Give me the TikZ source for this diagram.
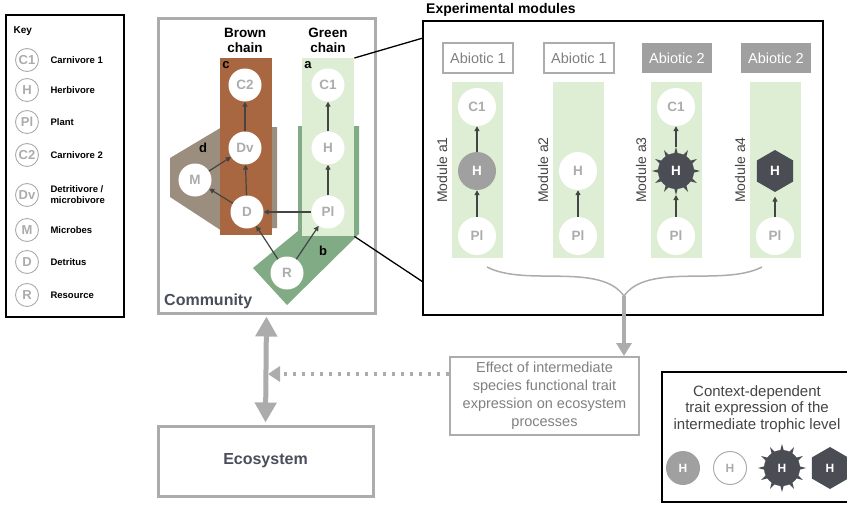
\documentclass[tikz,border=0pt]{standalone}
\usepackage{fontspec}
\setmainfont{Liberation Sans}
\usepackage{xcolor}
\usetikzlibrary{shapes,arrows,positioning,calc,arrows.meta}

\definecolor{brownch}{RGB}{168,103,64}
\definecolor{taupe}{RGB}{156,142,126}
\definecolor{palegreen}{RGB}{222,238,213}
\definecolor{darkgreen}{RGB}{128,171,133}
\definecolor{lightgrey}{RGB}{172,172,172}
\definecolor{midgrey}{RGB}{160,160,160}
\definecolor{darkslate}{RGB}{74,77,84}
\definecolor{arrowgrey}{RGB}{68,68,68}
\definecolor{labelgrey}{RGB}{74,78,90}
\definecolor{textgrey}{RGB}{128,128,128}

\newcommand{\fsz}[1]{\fontsize{#1}{#1}\selectfont}
% spikes around a trait node: node name, tip radius
\newcommand{\spikes}[2]{%
  \foreach \a in {0,30,...,330}{
    \fill[darkslate] ([shift={(\a-8:16)}]#1.center) -- ([shift={(\a:#2)}]#1.center) -- ([shift={(\a+8:16)}]#1.center) -- cycle;
  }}

\tikzset{
  keycirc/.style={circle, draw=lightgrey, line width=0.9pt, fill=white, minimum size=23pt, inner sep=0pt, text=lightgrey, font=\bfseries\fsz{13}},
  keylab/.style={anchor=west, align=left, font=\bfseries\fontsize{9.5}{11}\selectfont},
  species/.style={circle, fill=white, minimum size=33pt, inner sep=0pt, text=lightgrey, font=\bfseries\fsz{13.5}},
  modspecies/.style={species, minimum size=38pt},
  feeds/.style={draw=arrowgrey, line width=1.2pt, -{Triangle[length=5pt,width=5pt]}},
  greybox/.style={draw=lightgrey, line width=3pt, inner sep=0pt},
  blackbox/.style={draw=black, line width=1.6pt, inner sep=0pt},
  abiotic/.style={draw=lightgrey, line width=1.2pt, minimum width=70pt, minimum height=30pt, text=textgrey, font=\fsz{14.5}},
  abioticdark/.style={fill=midgrey, minimum width=70pt, minimum height=30pt, text=white, font=\fsz{14.5}},
  chainlab/.style={font=\bfseries\fsz{13}, text=black},
  hfilled/.style={circle, minimum size=38pt, inner sep=0pt, fill=midgrey, text=white, font=\bfseries\fsz{13.5}},
  hspiky/.style={circle, minimum size=36pt, inner sep=0pt, fill=darkslate, text=white, font=\bfseries\fsz{13.5}, outer sep=6pt},
  hhex/.style={regular polygon, regular polygon sides=6, shape border rotate=30, minimum size=42pt, inner sep=0pt, fill=darkslate, text=white, font=\bfseries\fsz{13.5}, outer sep=4pt}
}

\begin{document}
\begin{tikzpicture}[x=1pt,y=-1pt]
    \useasboundingbox (0,0) rectangle (847,514);

    % Key
    \node[blackbox, minimum width=118pt, minimum height=302pt] (keybox) at (65,166) {};
    \node[anchor=west, font=\bfseries\fsz{10}] (keytitle) at (10,31) {Key};
    \node[keycirc] (kc1) at (27,60) {C1};
    \node[keylab] (kl1) at (47,60) {Carnivore 1};
    \node[keycirc] (kh) at (27,90) {H};
    \node[keylab] (kl2) at (47,90) {Herbivore};
    \node[keycirc] (kpl) at (27,122) {Pl};
    \node[keylab] (kl3) at (47,122) {Plant};
    \node[keycirc] (kc2) at (27,155) {C2};
    \node[keylab] (kl4) at (47,155) {Carnivore 2};
    \node[keycirc] (kdv) at (27,195) {Dv};
    \node[keylab] (kl5) at (47,195) {Detritivore /\\microbivore};
    \node[keycirc] (km) at (27,230) {M};
    \node[keylab] (kl6) at (47,230) {Microbes};
    \node[keycirc] (kd) at (27,262) {D};
    \node[keylab] (kl7) at (47,262) {Detritus};
    \node[keycirc] (kr) at (27,295) {R};
    \node[keylab] (kl8) at (47,295) {Resource};

    % Community
    \node[greybox, minimum width=217pt, minimum height=295pt] (community) at (266.5,165.5) {};
    \node[anchor=south west, font=\bfseries\fsz{16}, text=labelgrey, inner sep=0pt] (commlab) at (164,309) {Community};

    % Brown chain with microbial loop
    \fill[taupe] (170,158) -- (222,127) -- (277,127) -- (277,228) -- (222,231) -- (170,197) -- cycle;
    \fill[brownch] (220,58) rectangle (272,235);
    \node[chainlab, align=center, font=\bfseries\fontsize{13.5}{15}\selectfont] (brownlab) at (245,40) {Brown\\chain};
    \node[chainlab] (labc) at (226,65) {c};
    \node[chainlab] (labd) at (203,148) {d};

    % Green chain
    \fill[darkgreen] (298,126) -- (359,126) -- (359,234) -- (287,305) -- (253,268) -- (298,231) -- cycle;
    \node[fill=palegreen, minimum width=52pt, minimum height=178pt, inner sep=0pt, anchor=north west] (greenchain) at (302,58) {};
    \node[chainlab, align=center, font=\bfseries\fontsize{13.5}{15}\selectfont] (greenlab) at (328,40) {Green\\chain};
    \node[chainlab] (laba) at (308,65) {a};
    \node[chainlab] (labb) at (323,251) {b};

    % Species
    \node[species] (c2) at (245,85) {C2};
    \node[species] (dv) at (245,148) {Dv};
    \node[species] (d) at (247,212) {D};
    \node[species] (m) at (195,180) {M};
    \node[species] (c1) at (328,85) {C1};
    \node[species] (h) at (328,148) {H};
    \node[species] (pl) at (328,212) {Pl};
    \node[species] (r) at (287,273) {R};

    % Trophic links
    \draw[feeds] (d) -- (dv);
    \draw[feeds] (dv) -- (c2);
    \draw[feeds] (d) -- (m);
    \draw[feeds] (m) -- (dv);
    \draw[feeds] (pl) -- (h);
    \draw[feeds] (h) -- (c1);
    \draw[feeds] (pl) -- (d);
    \draw[feeds] (r) -- (d);
    \draw[feeds] (r) -- (pl);

    % Experimental modules
    \node[blackbox, minimum width=400pt, minimum height=294pt] (modbox) at (623,168) {};
    \node[anchor=south west, font=\bfseries\fsz{14}, inner sep=0pt] (modlab) at (426,17) {Experimental modules};
    \coordinate (zoomtop) at (423,38);
    \coordinate (zoombot) at (423,282);
    \draw[line width=1.3pt] (greenchain.north east) -- (zoomtop);
    \draw[line width=1.3pt] (greenchain.south east) -- (zoombot);

    \node[abiotic] (ab1) at (478,58) {Abiotic 1};
    \node[abiotic] (ab2) at (579,58) {Abiotic 1};
    \node[abioticdark] (ab3) at (677,58) {Abiotic 2};
    \node[abioticdark] (ab4) at (776,58) {Abiotic 2};

    \foreach \i/\x in {1/477,2/578,3/676,4/775}{
        \fill[palegreen] (\x-25.5,82) rectangle (\x+25.5,258);
        \node[rotate=90, font=\fsz{14}, text=arrowgrey] (mlab\i) at (\x-35,170) {Module a\i};
        \node[modspecies] (mpl\i) at (\x,236) {Pl};
    }

    \node[modspecies] (mc1) at (477,107) {C1};
    \node[hfilled] (mh1) at (477,171) {H};
    \node[modspecies] (mh2) at (578,171) {H};
    \node[modspecies] (mc3) at (676,107) {C1};
    \node[hspiky] (mh3) at (676,171) {};
    \spikes{mh3}{24}
    \node[text=white, font=\bfseries\fsz{13.5}] at (mh3) {H};
    \node[hhex] (mh4) at (775,171) {H};

    \draw[feeds] (mpl1) -- (mh1);
    \draw[feeds] (mh1) -- (mc1);
    \draw[feeds] (mpl2) -- (mh2);
    \draw[feeds] (mpl3) -- (mh3);
    \draw[feeds] (mh3) -- (mc3);
    \draw[feeds] (mpl4) -- (mh4);

    % Brace gathering the modules
    \coordinate (bracetip) at (624,296);
    \draw[lightgrey, line width=1.5pt] (487,267) .. controls (525,287) and (600,262) .. (bracetip) .. controls (648,262) and (723,287) .. (762,267);

    % Effect box
    \node[draw=lightgrey, line width=2pt, minimum width=189pt, minimum height=78pt, align=center, text=textgrey, font=\fontsize{14.5}{18}\selectfont] (effect) at (544.5,396) {Effect of intermediate\\species functional trait\\expression on ecosystem\\processes};
    \draw[lightgrey, line width=4pt, -{Triangle[length=13pt,width=15pt]}] (bracetip) -- (bracetip |- effect.north);

    % Ecosystem
    \node[greybox, minimum width=215pt, minimum height=70pt, font=\bfseries\fsz{16}, text=labelgrey] (ecosystem) at (265.5,461) {Ecosystem};
    \draw[lightgrey, line width=5pt, {Triangle[length=20pt,width=21pt]}-{Triangle[length=20pt,width=21pt]}, shorten <=2pt, shorten >=2pt] (community.south) -- (ecosystem.north);
    \coordinate (dotend) at (268,374);
    \draw[lightgrey, line width=4pt, dash pattern=on 3.5pt off 5.5pt, -{Triangle[length=12pt,width=15pt]}] (effect.west |- dotend) -- (dotend);

    % Context-dependent trait expression
    \node[blackbox, minimum width=190pt, minimum height=130pt] (ctxbox) at (757,437) {};
    \node[align=center, text=arrowgrey, font=\fontsize{15}{16.5}\selectfont] (ctxlab) at (757,409) {Context-dependent\\trait expression of the\\intermediate trophic level};
    \node[circle, minimum size=34pt, inner sep=0pt, fill=midgrey, text=white, font=\bfseries\fsz{12}] (t1) at (683,468) {H};
    \node[circle, minimum size=33pt, inner sep=0pt, draw=lightgrey, line width=1pt, text=lightgrey, font=\bfseries\fsz{12}] (t2) at (730,468) {H};
    \node[hspiky] (t3) at (782,468) {};
    \spikes{t3}{24}
    \node[text=white, font=\bfseries\fsz{12}] at (t3) {H};
    \node[hhex, font=\bfseries\fsz{12}] (t4) at (830,468) {H};
\end{tikzpicture}
\end{document}
